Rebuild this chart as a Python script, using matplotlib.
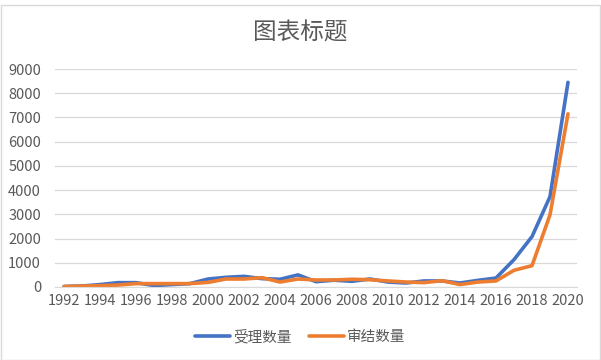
import matplotlib
matplotlib.use("Agg")
import matplotlib.pyplot as plt
from matplotlib.patches import Rectangle

plt.rcParams['font.family'] = ['Noto Sans CJK SC', 'DejaVu Sans']

years = list(range(1992, 2021))
accepted = [20, 40, 100, 180, 180, 60, 100, 140, 330, 400, 440, 345, 320, 500, 220, 280,
            235, 330, 205, 165, 250, 250, 165, 275, 370, 1130, 2080, 3730, 8450]
concluded = [20, 40, 55, 80, 140, 140, 140, 140, 190, 330, 330, 385, 205, 330, 290, 290,
             320, 300, 250, 205, 180, 260, 100, 205, 250, 690, 880, 2980, 7150]
tick_years = years[::2]

text_color = '#595959'

fig = plt.figure(figsize=(6.01, 3.6), dpi=100)
# chart border
fig.patches.append(Rectangle((0.5 / 601, 0), 599 / 601, 355 / 360, transform=fig.transFigure,
                             fill=False, edgecolor='#D9D9D9', linewidth=1))
ax = fig.add_axes([55 / 601, 1 - 287 / 360, (577 - 55) / 601, (287 - 69) / 360])

ax.plot(years, accepted, color='#4472C4', linewidth=2.6, label='受理数量',
        solid_joinstyle='round', solid_capstyle='round')
ax.plot(years, concluded, color='#ED7D31', linewidth=2.6, label='审结数量',
        solid_joinstyle='round', solid_capstyle='round')

ax.set_xlim(1991.5, 2020.5)
ax.set_ylim(0, 9000)
ax.set_yticks(range(0, 9001, 1000))
ax.set_xticks(tick_years)
ax.grid(axis='y', color='#D9D9D9', linewidth=0.9)
ax.set_axisbelow(True)
for s in ['top', 'right', 'left']:
    ax.spines[s].set_visible(False)
ax.spines['bottom'].set_color('#D9D9D9')
ax.tick_params(axis='both', length=0, labelsize=10.5, colors=text_color, pad=5)
ax.tick_params(axis='y', pad=10)

fig.text(0.5, 1 - 33 / 360, '图表标题', ha='center', va='center', fontsize=17, color=text_color)

ax.legend(loc='center', bbox_to_anchor=(0.5, 1 - 337 / 360), bbox_transform=fig.transFigure,
          ncol=2, frameon=False, fontsize=10.5, labelcolor=text_color, handlelength=2.4,
          columnspacing=1.2, handletextpad=0.2)

fig.savefig('out.png', dpi=100)
